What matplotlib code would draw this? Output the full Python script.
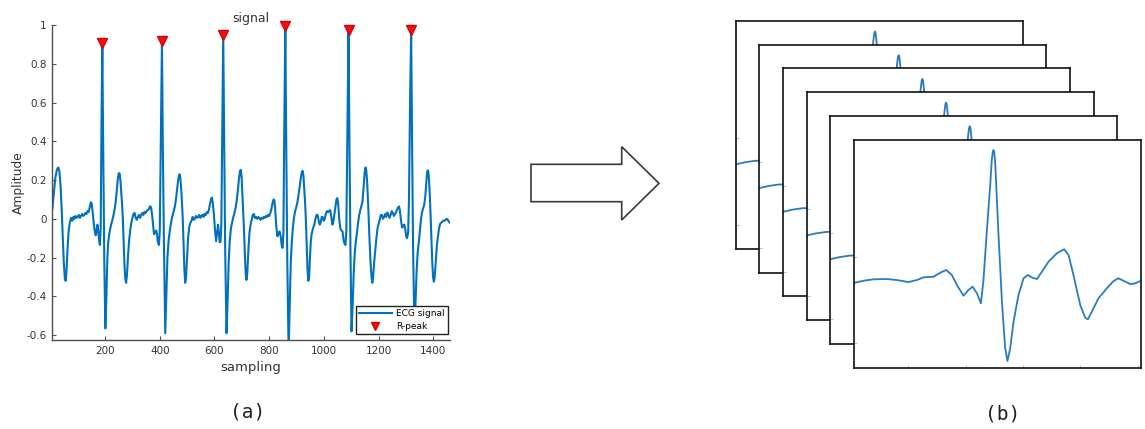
import matplotlib
matplotlib.use("Agg")
import matplotlib.pyplot as plt
from matplotlib.patches import Polygon
from matplotlib.ticker import FormatStrFormatter

# ---------------- data ----------------
# ECG trace (sample index, amplitude)
ecg_x = [7, 12, 18, 24, 29, 33, 37, 41, 45, 49, 53, 56, 59, 63, 67, 71, 76, 80, 84, 88,
         92, 96, 100, 104, 108, 112, 116, 120, 124, 128, 132, 136, 140, 144, 148, 151, 155, 159, 163, 166,
         169, 172, 175, 178, 181, 184, 187, 190, 193, 197, 201, 205, 208, 211, 215, 219, 223, 227, 231, 235,
         239, 243, 247, 250, 253, 256, 259, 262, 265, 268, 271, 274, 277, 280, 284, 288, 292, 296, 300, 304,
         308, 312, 316, 320, 324, 328, 332, 336, 340, 344, 348, 352, 356, 360, 364, 368, 372, 376, 379, 383,
         387, 390, 393, 397, 400, 404, 408, 411, 415, 420, 424, 428, 432, 436, 440, 444, 448, 452, 456, 460,
         464, 468, 472, 475, 478, 481, 484, 487, 490, 493, 496, 500, 504, 508, 512, 516, 520, 524, 528, 532,
         536, 540, 544, 548, 552, 556, 560, 564, 568, 572, 576, 580, 584, 588, 591, 594, 598, 602, 606, 609,
         613, 616, 619, 622, 625, 628, 632, 635, 639, 644, 648, 652, 656, 660, 665, 669, 673, 677, 681, 685,
         689, 693, 696, 699, 702, 705, 708, 711, 714, 717, 720, 724, 728, 732, 736, 740, 744, 748, 752, 756,
         760, 764, 768, 772, 776, 780, 784, 788, 792, 796, 800, 804, 808, 812, 816, 819, 822, 826, 830, 834,
         838, 842, 846, 849, 852, 855, 859, 862, 866, 871, 875, 879, 883, 887, 891, 895, 899, 903, 907, 911,
         915, 919, 922, 925, 928, 931, 934, 937, 940, 943, 946, 949, 952, 955, 960, 965, 969, 973, 977, 981,
         985, 988, 992, 995, 999, 1003, 1007, 1011, 1015, 1019, 1023, 1027, 1031, 1034, 1038, 1042, 1046, 1049, 1052, 1056,
         1060, 1064, 1068, 1072, 1076, 1079, 1082, 1086, 1090, 1093, 1097, 1101, 1105, 1109, 1113, 1117, 1121, 1125, 1129, 1133,
         1137, 1141, 1145, 1149, 1152, 1155, 1158, 1162, 1166, 1170, 1174, 1177, 1180, 1184, 1188, 1192, 1196, 1200, 1204, 1208,
         1212, 1216, 1220, 1224, 1228, 1232, 1236, 1240, 1244, 1248, 1252, 1256, 1260, 1264, 1268, 1272, 1275, 1278, 1282, 1286,
         1290, 1294, 1298, 1301, 1304, 1308, 1311, 1315, 1319, 1322, 1326, 1331, 1335, 1339, 1343, 1347, 1351, 1355, 1359, 1363,
         1367, 1371, 1375, 1378, 1381, 1384, 1387, 1390, 1393, 1396, 1399, 1402, 1405, 1409, 1413, 1417, 1421, 1425, 1429, 1433,
         1437, 1441, 1445, 1449, 1453, 1457, 1462]
ecg_y = [0.05, 0.12, 0.21, 0.255, 0.265, 0.245, 0.18, 0.06, -0.08, -0.22, -0.31, -0.32, -0.27, -0.15, -0.06, -0.02, 0.005, -0.01, 0.01, 0.0,
         0.015, 0.005, 0.01, 0.02, 0.005, 0.015, 0.025, 0.015, 0.02, 0.03, 0.025, 0.04, 0.035, 0.06, 0.085, 0.08, 0.03, -0.03, -0.07, -0.085,
         -0.06, -0.03, -0.06, -0.11, -0.135, -0.05, 0.5, 0.905, 0.4, -0.2, -0.565, -0.4, -0.22, -0.13, -0.08, -0.05, -0.025, -0.005, 0.02, 0.05,
         0.09, 0.15, 0.21, 0.235, 0.235, 0.2, 0.14, 0.08, 0.0, -0.12, -0.24, -0.31, -0.33, -0.29, -0.19, -0.11, -0.06, -0.02, 0.005, 0.025,
         0.03, 0.005, -0.005, 0.01, 0.02, 0.005, 0.02, 0.03, 0.02, 0.035, 0.03, 0.04, 0.045, 0.05, 0.065, 0.06, 0.02, -0.04, -0.08, -0.07,
         -0.06, -0.08, -0.12, -0.135, -0.06, 0.45, 0.916, 0.4, -0.1, -0.59, -0.4, -0.2, -0.115, -0.07, -0.03, 0.0, 0.025, 0.045, 0.07, 0.11,
         0.16, 0.21, 0.23, 0.215, 0.16, 0.09, 0.0, -0.13, -0.26, -0.33, -0.3, -0.2, -0.09, -0.04, -0.02, -0.01, 0.01, -0.005, 0.0, 0.015,
         0.005, 0.01, 0.02, 0.005, 0.015, 0.02, 0.01, 0.025, 0.02, 0.035, 0.03, 0.05, 0.08, 0.105, 0.11, 0.08, 0.02, -0.06, -0.115, -0.08,
         -0.03, -0.07, -0.12, -0.12, -0.03, 0.4, 0.947, 0.45, -0.15, -0.59, -0.42, -0.22, -0.11, -0.05, -0.015, 0.01, 0.03, 0.055, 0.09, 0.14,
         0.2, 0.245, 0.253, 0.22, 0.13, 0.05, -0.06, -0.18, -0.28, -0.315, -0.28, -0.16, -0.07, -0.03, -0.005, 0.02, 0.025, 0.005, 0.01, 0.0,
         0.01, 0.005, -0.005, 0.005, 0.0, 0.01, 0.005, 0.015, 0.01, 0.02, 0.015, 0.03, 0.05, 0.08, 0.1, 0.095, 0.05, -0.04, -0.09, -0.075,
         -0.065, -0.09, -0.14, -0.15, -0.07, 0.45, 0.997, 0.45, -0.2, -0.68, -0.45, -0.22, -0.11, -0.04, 0.01, 0.04, 0.06, 0.085, 0.12, 0.16,
         0.205, 0.24, 0.248, 0.225, 0.16, 0.09, 0.0, -0.13, -0.26, -0.32, -0.3, -0.2, -0.12, -0.08, -0.05, -0.03, 0.0, 0.02, 0.02, -0.01,
         -0.03, -0.02, 0.01, 0.01, -0.01, 0.0, 0.025, 0.04, 0.035, 0.04, 0.045, 0.01, -0.03, -0.02, 0.02, 0.06, 0.1, 0.107, 0.08, 0.0,
         -0.05, -0.06, -0.065, -0.11, -0.13, -0.135, -0.06, 0.45, 0.972, 0.45, -0.15, -0.58, -0.45, -0.28, -0.17, -0.115, -0.07, -0.02, 0.02, 0.045,
         0.065, 0.09, 0.16, 0.24, 0.265, 0.25, 0.19, 0.07, -0.08, -0.21, -0.3, -0.33, -0.3, -0.22, -0.16, -0.1, -0.05, -0.025, -0.005, 0.02,
         0.02, 0.0, 0.01, 0.025, 0.01, 0.033, 0.02, 0.005, 0.02, 0.04, 0.03, 0.015, 0.025, 0.035, 0.05, 0.06, 0.064, 0.04, -0.01, -0.045,
         -0.035, -0.03, -0.06, -0.09, -0.1, -0.07, 0.1, 0.6, 0.972, 0.45, -0.15, -0.57, -0.43, -0.27, -0.17, -0.12, -0.06, 0.0, 0.035, 0.055,
         0.075, 0.12, 0.2, 0.245, 0.25, 0.21, 0.125, 0.02, -0.1, -0.22, -0.3, -0.324, -0.3, -0.22, -0.14, -0.09, -0.05, -0.025, -0.02, -0.015,
         -0.01, -0.01, -0.005, 0.0, -0.005, -0.015, -0.022]

# detected R peaks
rpeak_x = [190, 408, 632, 859, 1090, 1319]
rpeak_y = [0.905, 0.916, 0.947, 0.997, 0.972, 0.972]

# one segmented heartbeat (sample index within the window, amplitude)
beat_x = [3.3, 11.1, 19.8, 31.5, 40.2, 50.3, 57.6, 63.4, 72.1, 77.9, 83.1, 88.1, 92.5, 98.2, 102.6, 106.1,
          109.9, 113.4, 115.6, 118.6, 121.5, 122.8, 123.7, 124.3, 124.9, 125.8, 128.7, 131.7, 134.5, 136.5, 138.9, 141.8,
          146.1, 150.5, 154.3, 158.3, 162.2, 166.5, 172.3, 179.6, 185.9, 189.7, 194.0, 199.9, 204.2, 206.6,
          210.0, 215.8, 223.1, 228.9, 233.2, 237.6, 243.4, 247.8, 252.2]
beat_y = [0.019, 0.033, 0.043, 0.045, 0.038, 0.024, 0.038, 0.057, 0.061, 0.089, 0.108, 0.073, 0.003, -0.071, -0.031, -0.008,
          -0.054, -0.124, 0.038, 0.386, 0.700, 0.870, 0.930, 0.942, 0.930, 0.860, 0.351, -0.113, -0.435, -0.525, -0.435, -0.252,
          -0.066, 0.050, 0.073, 0.054, 0.045, 0.096, 0.166, 0.224, 0.252, 0.212, 0.073, -0.136, -0.224, -0.235,
          -0.182, -0.089, -0.019, 0.031, 0.050, 0.033, 0.010, 0.015, 0.031]
n_windows = 6

# ---------------- figure ----------------
W, H = 1145, 429
fig = plt.figure(figsize=(W / 100, H / 100), dpi=100)


def px_axes(left, top, width, height):
    return fig.add_axes([left / W, 1 - (top + height) / H, width / W, height / H])


blue = "#0072BD"
axcol = "#505050"
txtcol = "#333333"

# (a) ECG signal with R peaks
ax = px_axes(52, 25, 398, 315)
ax.plot(ecg_x, ecg_y, color=blue, lw=1.5, label="ECG signal", zorder=2)
ax.plot(rpeak_x, rpeak_y, linestyle="none", marker="v", ms=6.5, color="#ee1111",
        mec="#dd0000", label="R-peak", clip_on=False, zorder=3)
ax.set_xlim(6, 1461)
ax.set_ylim(-0.625, 1.0)
ax.set_xticks([200, 400, 600, 800, 1000, 1200, 1400])
ax.set_yticks([-0.6, -0.4, -0.2, 0, 0.2, 0.4, 0.6, 0.8, 1.0])
ax.yaxis.set_major_formatter(FormatStrFormatter("%g"))
for s in ("top", "right"):
    ax.spines[s].set_visible(False)
for s in ("left", "bottom"):
    ax.spines[s].set_color(axcol)
    ax.spines[s].set_linewidth(1.0)
ax.tick_params(direction="in", length=3, width=0.8, color=axcol,
               labelsize=7.5, labelcolor=txtcol, pad=4)
ax.set_title("signal", fontsize=9, color=txtcol, pad=2)
ax.set_xlabel("sampling", fontsize=9.5, color=txtcol, labelpad=4)
ax.set_ylabel("Amplitude", fontsize=8.8, color=txtcol, labelpad=1)
leg = ax.legend(loc="lower right", bbox_to_anchor=(0.995, 0.019), borderaxespad=0,
                fontsize=6.5, frameon=True, fancybox=False, framealpha=1,
                handlelength=3.6, handletextpad=0.5, labelspacing=0.45,
                borderpad=0.35, markerscale=0.9)
leg.get_frame().set_edgecolor("#222222")
leg.get_frame().set_linewidth(1.0)
leg.set_zorder(5)

# block arrow between the panels
arrow_px = [(531, 164.3), (621.7, 164.3), (621.7, 146.7), (659, 183.3),
            (621.7, 220), (621.7, 201.7), (531, 201.7)]
fig.patches.append(Polygon([(x / W, 1 - y / H) for x, y in arrow_px], closed=True,
                           transform=fig.transFigure, facecolor="white",
                           edgecolor="#3a3a3a", lw=1.2))

# (b) stack of segmented heartbeat windows
step = 23.7
for i in range(n_windows):
    bx = px_axes(735.7 + i * step, 21 + i * step, 287, 228)
    bx.set_facecolor("white")
    bx.plot(beat_x, beat_y, color="#2b7bbf", lw=1.3)
    bx.set_xlim(3, 253)
    bx.set_ylim(-0.57, 1.015)
    bx.set_xticks([50, 100, 150, 200, 250])
    bx.set_yticks([-0.4, 0.2])
    bx.tick_params(direction="in", length=2.5, width=0.6, color="#b0b0b0",
                   labelbottom=False, labelleft=False)
    for s in bx.spines.values():
        s.set_color("#111111")
        s.set_linewidth(1.2)

# panel captions
fig.text(248 / W, 1 - 412 / H, "(a)", fontsize=14, family="DejaVu Sans Mono",
         ha="center", va="center", color="#222222")
fig.text(1003 / W, 1 - 414 / H, "(b)", fontsize=14, family="DejaVu Sans Mono",
         ha="center", va="center", color="#222222")

fig.savefig("out.png", dpi=100)
